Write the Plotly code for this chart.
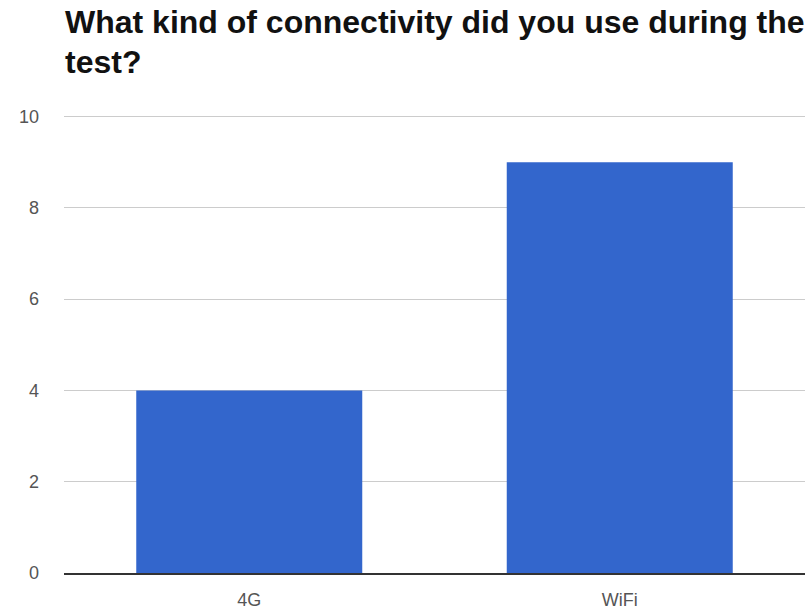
import plotly.graph_objects as go

categories = ["4G", "WiFi"]
counts = [4, 9]
y_ticks = [0, 2, 4, 6, 8, 10]
title_lines = ["What kind of connectivity did you use during the", "test?"]

PLOT_TOP = 112
PLOT_BOTTOM = 41
PLOT_H = 614 - PLOT_TOP - PLOT_BOTTOM

fig = go.Figure(
    go.Bar(
        x=categories,
        y=counts,
        marker=dict(color="#3366CC", line=dict(width=0)),
        hoverinfo="x+y",
    )
)

fig.update_layout(
    width=808,
    height=614,
    margin=dict(l=64, r=3, t=PLOT_TOP, b=PLOT_BOTTOM),
    paper_bgcolor="white",
    plot_bgcolor="white",
    bargap=0.39,
    showlegend=False,
    font=dict(family="Liberation Sans, Arial, sans-serif", color="#444444"),
)

fig.update_yaxes(
    range=[0, 10.1],
    tickvals=y_ticks,
    ticktext=[str(v) for v in y_ticks],
    showgrid=True,
    gridcolor="#CCCCCC",
    gridwidth=1,
    zeroline=False,
    showline=False,
    ticks="",
    ticklabelstandoff=24,
    tickfont=dict(size=18, color="#555555"),
    fixedrange=True,
)

fig.update_xaxes(
    showline=True,
    linecolor="#333333",
    linewidth=2,
    ticks="",
    ticklabelstandoff=9,
    tickfont=dict(size=18, color="#555555"),
    fixedrange=True,
)

# Title drawn as two lines to control the line spacing
for i, line in enumerate(title_lines):
    fig.add_annotation(
        text=f"<b>{line}</b>",
        xref="paper",
        yref="paper",
        x=-0.001,
        y=1 + (90 - 40 * i) / PLOT_H,
        xanchor="left",
        yanchor="middle",
        showarrow=False,
        font=dict(size=32, color="#111111", family="Liberation Sans, Arial, sans-serif"),
    )

fig.write_html("out.html")
